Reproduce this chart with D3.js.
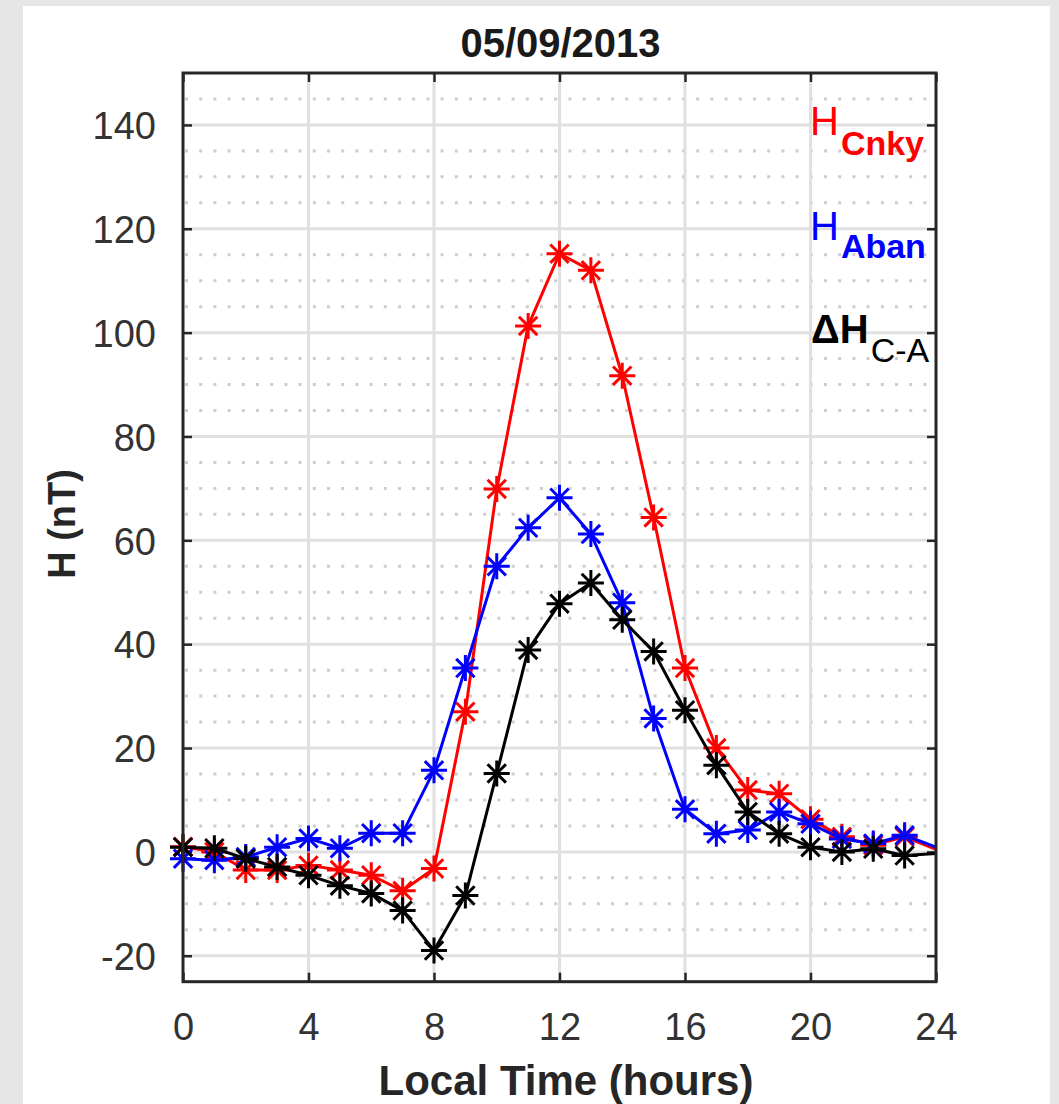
<!DOCTYPE html>
<html>
<head>
<meta charset="utf-8">
<script src="https://cdn.jsdelivr.net/npm/d3@7"></script>
<style>
  html, body { margin: 0; padding: 0; background: #e6e6e6; }
  svg { display: block; }
  text { font-family: "Liberation Sans", Arial, sans-serif; }
</style>
</head>
<body>
<svg id="chart" width="1059" height="1104"></svg>
<script>
// ---- data ----
const title = "05/09/2013";
const hours = [0,1,2,3,4,5,6,7,8,9,10,11,12,13,14,15,16,17,18,19,20,21,22,23,24];
const markerHours = [0,1,2,3,4,5,6,7,8,9,10,11,12,13,14,15,16,17,18,19,20,21,22,23];
const hCnky = [1, 0, -3.5, -3.5, -2.6, -3.5, -4.5, -7.5, -3.2, 27, 69.9, 101.3, 115.2, 112, 91.7, 64.4, 35.4, 20, 11.9, 11.2, 6.3, 2.9, 1.3, 2.9, 0.5];
const hAban = [-1.3, -1.6, -1, 0.9, 2.6, 0.7, 3.6, 3.6, 15.7, 35.4, 55, 62.4, 68.2, 61.2, 48, 25.7, 8.2, 3.5, 4.2, 7.7, 5.4, 2.5, 1.6, 3.2, 0.9];
const dHCA = [0.9, 0.7, -1.3, -2.9, -4.5, -6.5, -8, -11.3, -19, -8.4, 15.1, 38.9, 47.8, 51.8, 44.7, 38.6, 27.3, 16.7, 7.7, 3.5, 0.9, 0, 0.6, -0.7, -0.3];
const xTicks = [0, 4, 8, 12, 16, 20, 24];
const yTicks = [-20, 0, 20, 40, 60, 80, 100, 120, 140];
const yMinorTicks = [-15,-10,-5,5,10,15,25,30,35,45,50,55,65,70,75,85,90,95,105,110,115,125,130,135,145];
const xLabel = "Local Time (hours)";
const yLabel = "H (nT)";

// ---- drawing ----
const svg = d3.select("#chart");
const L = 183, R = 936, T = 73, B = 981.7;
const x = d3.scaleLinear().domain([0, 24]).range([L, R]);
const y = d3.scaleLinear().domain([-25, 150]).range([B, T]);

// white figure panel
svg.append("rect").attr("x", 23).attr("y", 6).attr("width", 1050 - 23).attr("height", 1104 - 6).attr("fill", "#fff");

// minor dotted horizontal grid
svg.append("g").selectAll("line").data(yMinorTicks).join("line")
  .attr("x1", L + 2).attr("x2", R)
  .attr("y1", d => y(d)).attr("y2", d => y(d))
  .attr("stroke", "#cdcdcd").attr("stroke-width", 3)
  .attr("stroke-dasharray", "3,11.2");

// major grid
svg.append("g").selectAll("line").data(yTicks).join("line")
  .attr("x1", L).attr("x2", R)
  .attr("y1", d => y(d)).attr("y2", d => y(d))
  .attr("stroke", "#e0e0e0").attr("stroke-width", 3);
svg.append("g").selectAll("line").data(xTicks.slice(1, -1)).join("line")
  .attr("x1", d => x(d)).attr("x2", d => x(d))
  .attr("y1", T).attr("y2", B)
  .attr("stroke", "#e0e0e0").attr("stroke-width", 3);

// axes with inward ticks
const tickLen = 9;
const fmt = d => String(d);
const xb = svg.append("g").attr("transform", `translate(0,${B})`)
  .call(d3.axisBottom(x).tickValues(xTicks).tickSize(-tickLen).tickPadding(tickLen + 24).tickFormat(fmt));
const xt = svg.append("g").attr("transform", `translate(0,${T})`)
  .call(d3.axisTop(x).tickValues(xTicks).tickSize(-tickLen).tickFormat(""));
const yl = svg.append("g").attr("transform", `translate(${L},0)`)
  .call(d3.axisLeft(y).tickValues(yTicks).tickSize(-tickLen).tickPadding(tickLen + 18).tickFormat(fmt));
const yr = svg.append("g").attr("transform", `translate(${R},0)`)
  .call(d3.axisRight(y).tickValues(yTicks).tickSize(-tickLen).tickFormat(""));
[xb, xt, yl, yr].forEach(g => {
  g.select(".domain").remove();
  g.selectAll(".tick line").attr("stroke", "#262626").attr("stroke-width", 2.5);
  g.selectAll(".tick text").attr("fill", "#333").attr("font-size", 38)
    .attr("font-family", "Liberation Sans, Arial, sans-serif");
});
xb.selectAll(".tick text").attr("dy", 0).attr("y", 1040 - B);
yl.selectAll(".tick text").attr("dy", "0.36em");

// series
const series = [
  { name: "Cnky", values: hCnky, color: "#ff0000" },
  { name: "Aban", values: hAban, color: "#0000ff" },
  { name: "C-A", values: dHCA, color: "#000000" }
];
const line = d3.line().x(d => x(d[0])).y(d => y(d[1]));
const r = 13, a = r * 0.7071;
const star = `M${-r},0L${r},0M0,${-r}L0,${r}M${-a},${-a}L${a},${a}M${-a},${a}L${a},${-a}`;
series.forEach(s => {
  const pts = hours.map((h, i) => [h, s.values[i]]);
  const g = svg.append("g");
  g.append("path").datum(pts).attr("d", line)
    .attr("fill", "none").attr("stroke", s.color).attr("stroke-width", 3)
    .attr("stroke-linejoin", "round");
  g.selectAll("path.m").data(markerHours).join("path").attr("class", "m")
    .attr("d", star)
    .attr("transform", h => `translate(${x(h)},${y(s.values[hours.indexOf(h)])})`)
    .attr("stroke", s.color).attr("stroke-width", 3).attr("fill", "none");
});

// box
svg.append("rect").attr("x", L).attr("y", T).attr("width", R - L).attr("height", B - T)
  .attr("fill", "none").attr("stroke", "#262626").attr("stroke-width", 3);

// title & axis labels
svg.append("text").attr("x", (L + R) / 2 + 1).attr("y", 57).attr("text-anchor", "middle")
  .attr("font-size", 40).attr("font-weight", "bold").attr("fill", "#1a1a1a").text(title);
svg.append("text").attr("x", 566).attr("y", 1095).attr("text-anchor", "middle")
  .attr("font-size", 42).attr("font-weight", "bold").attr("fill", "#262626").text(xLabel);
svg.append("text").attr("transform", "translate(75,524) rotate(-90)").attr("text-anchor", "middle")
  .attr("font-size", 38).attr("font-weight", "bold").attr("fill", "#262626").text(yLabel);

// legend labels
function legend(xp, yp, main, mainW, sub, subW, color, subDy) {
  const t = svg.append("text").attr("x", xp).attr("y", yp).attr("fill", color);
  t.append("tspan").attr("font-size", 40).attr("font-weight", mainW).text(main);
  t.append("tspan").attr("font-size", 34).attr("font-weight", subW).attr("dy", subDy).attr("dx", 2).text(sub);
}
legend(810, 135, "H", "normal", "Cnky", "bold", "#ff0000", 20);
legend(810, 240, "H", "normal", "Aban", "bold", "#0000ff", 18);
legend(811, 343, "\u0394H", "bold", "C-A", "normal", "#000000", 19);
</script>
</body>
</html>
